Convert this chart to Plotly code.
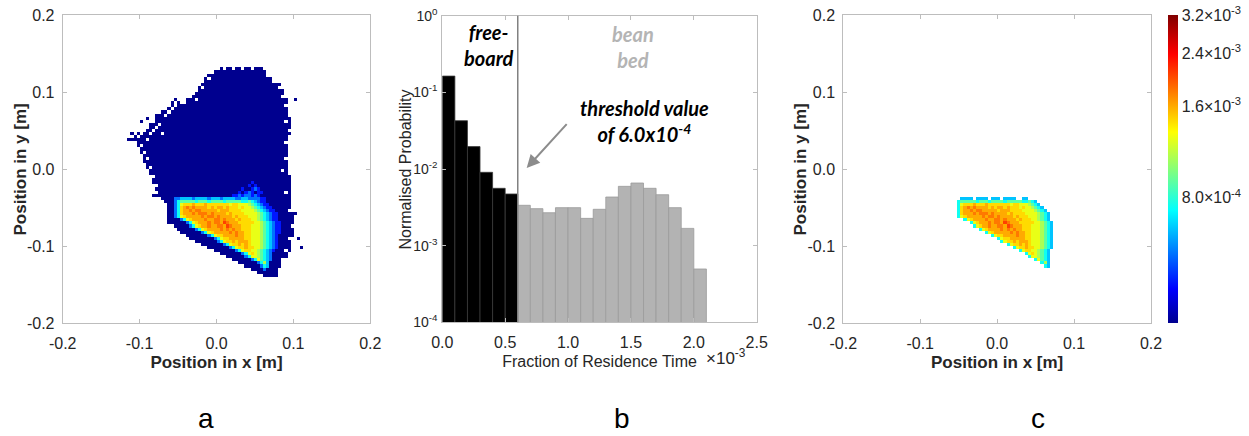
import numpy as np
import plotly.graph_objects as go

# ---------------- data ----------------
# 2-D residence maps: 100 x 100 bins of 0.004 m over [-0.2, 0.2] m.
bin_size_m = 0.004
n_bins = 100

# Footprint of the visited cells in panel a (row index counted from the top edge y = 0.2 m,
# left / right column index counted from x = -0.2 m)
footprint_rows = list(range(17, 85))
footprint_left = [51, 49, 47, 46, 46, 45, 44, 44, 43, 42, 40, 37, 35, 33, 31, 30, 30, 29, 28, 27,
                  26, 24, 23, 22, 23, 24, 25, 25, 26, 26, 26, 27, 27, 28, 28, 29, 29, 29, 30, 30,
                  31, 31, 32, 33, 34, 34, 34, 34, 34, 34, 34, 36, 37, 38, 40, 41, 43, 45, 47, 49,
                  51, 53, 55, 57, 59, 61, 63, 65]
footprint_right = [64, 65, 66, 67, 68, 70, 70, 71, 71, 71, 72, 72, 72, 72, 72, 72, 73, 73, 73, 73,
                   73, 73, 72, 72, 72, 72, 72, 72, 72, 72, 72, 72, 72, 72, 72, 73, 73, 73, 73, 73,
                   73, 73, 73, 73, 73, 73, 73, 74, 74, 74, 74, 74, 74, 74, 74, 73, 73, 73, 73, 73,
                   72, 72, 71, 70, 70, 69, 69, 69]
# empty cells inside the footprint (col, row) and lone visited cells outside it (col, row)
hole_cells = [(38, 28), (39, 28), (36, 29), (33, 30), (35, 30), (31, 31), (34, 31), (33, 32), (29, 34),
              (31, 35), (27, 36), (30, 36), (26, 37), (29, 37), (25, 38), (28, 38), (32, 38), (24, 39),
              (27, 40), (23, 41), (25, 42), (26, 44), (27, 46), (28, 49), (29, 52), (30, 55), (41, 26),
              (43, 27), (45, 23), (47, 20), (52, 17), (55, 17), (58, 17), (61, 17), (66, 19), (68, 21),
              (70, 23), (71, 26), (72, 29), (72, 34), (73, 37), (72, 41), (72, 46), (71, 50), (72, 57),
              (73, 63), (74, 68), (73, 72), (72, 76), (71, 79)]
lone_cells = [(75, 27), (76, 72), (77, 75), (29, 58), (30, 58), (27, 33), (25, 34), (22, 38), (21, 40),
              (36, 27), (35, 28), (75, 64)]

# Colour levels of the dense (bean bed) region: one character per bin
level_codes = "0123456789ab"
level_values = [2.8e-4, 4.2e-4, 5.2e-4, 6.3e-4, 7.5e-4, 9.0e-4, 1.08e-3, 1.25e-3, 1.43e-3, 1.6e-3,
                1.8e-3, 2.05e-3]
hot_rows = list(range(54, 83))
hot_start = [60, 59, 58, 57, 55, 36, 36, 36, 36, 36, 36, 36, 38, 40, 41, 43, 45, 47, 49, 50, 52, 54,
             56, 58, 59, 61, 63, 64, 65]
hot_levels = [
    "0100",
    "01010",
    "1001210",
    "10121011",
    "1121221210",
    "2" + "2333323333233323333223322" + "2211",
    "2" + "45555545554555545555544543" + "211",
    "24" + "78889888988888887887776" + "543" + "211",
    "24" + "89a9a9999898998988878776" + "543" + "211",
    "24" + "899a9aa999998999888877776" + "543" + "211",
    "24" + "8999a9aaa9a999989888877776" + "543" + "211",
    "24" + "7899999a9aa9a9999898887776" + "543" + "211",
    "24" + "789999a99aa9a99989888776" + "543" + "211",
    "24" + "78999a9aa9ba99988888776" + "543" + "211",
    "24" + "7899a99aa9ba9998887776" + "543" + "211",
    "24" + "789999a9a9a998887776" + "543" + "211",
    "24" + "7899999a9a99887776" + "543" + "211",
    "24" + "7889999a99887776" + "543" + "21",
    "24" + "78899999887776" + "543" + "21",
    "24" + "7889899987776" + "543" + "21",
    "24" + "78898987776" + "543" + "21",
    "24" + "788988776" + "543" + "21",
    "24" + "788776" + "543" + "21",
    "24" + "7876" + "543" + "2",
    "24" + "776" + "543" + "2",
    "24" + "7" + "543" + "2",
    "2463",
    "243",
    "2",
]
threshold_value = 6.0e-4
cbar_min, cbar_max = 3.08e-4, 3.2e-3
cbar_ticks = [8.0e-4, 1.6e-3, 2.4e-3, 3.2e-3]
cbar_ticktext = ["8.0\u00d710<sup>-4</sup>", "1.6\u00d710<sup>-3</sup>",
                 "2.4\u00d710<sup>-3</sup>", "3.2\u00d710<sup>-3</sup>"]

# Histogram (panel b): fraction of residence time (x 10^-3), bin width 0.1
hist_left = [0.0, 0.1, 0.2, 0.3, 0.4, 0.5, 0.6, 0.7, 0.8, 0.9, 1.0, 1.1, 1.2, 1.3, 1.4, 1.5, 1.6,
             1.7, 1.8, 1.9, 2.0]
hist_prob = [0.163, 0.0427, 0.0196, 0.00905, 0.0056, 0.00472, 0.00336, 0.00304, 0.00269, 0.00313,
             0.00313, 0.00227, 0.00298, 0.00431, 0.00594, 0.00656, 0.0056, 0.00462, 0.00313,
             0.00168, 0.000496]
n_freeboard = 6
threshold_x = 0.6

pos_ticks = [-0.2, -0.1, 0.0, 0.1, 0.2]
pos_ticktext = ["-0.2", "-0.1", "0.0", "0.1", "0.2"]
hist_xticks = [0.0, 0.5, 1.0, 1.5, 2.0, 2.5]
hist_xticktext = ["0.0", "0.5", "1.0", "1.5", "2.0", "2.5"]
hist_yticks = [1e-4, 1e-3, 1e-2, 1e-1, 1.0]
hist_yticktext = ["10<sup>-4</sup>", "10<sup>-3</sup>", "10<sup>-2</sup>", "10<sup>-1</sup>", "10<sup>0</sup>"]

# ---------------- build maps ----------------
grid = np.full((n_bins, n_bins), np.nan)
for r, lo, hi in zip(footprint_rows, footprint_left, footprint_right):
    grid[r, lo:hi + 1] = level_values[0]
for c, r in hole_cells:
    grid[r, c] = np.nan
for c, r in lone_cells:
    grid[r, c] = level_values[0]
for r, s, txt in zip(hot_rows, hot_start, hot_levels):
    for k, ch in enumerate(txt):
        grid[r, s + k] = level_values[level_codes.index(ch)]
grid_c = np.where(grid >= threshold_value, grid, np.nan)

centers = [round(-0.2 + bin_size_m * (i + 0.5), 4) for i in range(n_bins)]
with np.errstate(invalid="ignore", divide="ignore"):
    za = np.log10(grid[::-1])
    zc = np.log10(grid_c[::-1])

jet = [[0.0, "rgb(0,0,143)"], [0.11, "rgb(0,0,255)"], [0.365, "rgb(0,255,255)"],
       [0.62, "rgb(255,255,0)"], [0.873, "rgb(255,0,0)"], [1.0, "rgb(128,0,0)"]]
zmin, zmax = np.log10(cbar_min), np.log10(cbar_max)

W, H = 1249, 436
FONT = "Liberation Sans, Arial, sans-serif"
TXT = "#262626"
AX = "#bdbdbd"

fig = go.Figure()
fig.add_trace(go.Heatmap(x=centers, y=centers, z=za, zmin=zmin, zmax=zmax, colorscale=jet,
                         showscale=False, hoverinfo="skip", xaxis="x", yaxis="y"))
fig.add_trace(go.Heatmap(x=centers, y=centers, z=zc, zmin=zmin, zmax=zmax, colorscale=jet,
                         hoverinfo="skip", xaxis="x3", yaxis="y3",
                         colorbar=dict(x=1167.7 / W, xanchor="left", y=1 - 323.3 / H, yanchor="bottom",
                                       len=307.6 / H, lenmode="fraction", thickness=10,
                                       thicknessmode="pixels", xpad=0, ypad=0, outlinewidth=0,
                                       tickmode="array", tickvals=list(np.log10(cbar_ticks)),
                                       ticktext=cbar_ticktext, ticks="",
                                       tickfont=dict(family=FONT, size=16, color=TXT))))

centers_b = [round(v + 0.05, 2) for v in hist_left]
fig.add_trace(go.Bar(x=centers_b[:n_freeboard], y=hist_prob[:n_freeboard], width=0.1,
                     marker=dict(color="#000000", line=dict(color="#3a3a3a", width=0.8)),
                     xaxis="x2", yaxis="y2", hoverinfo="skip"))
fig.add_trace(go.Bar(x=centers_b[n_freeboard:], y=hist_prob[n_freeboard:], width=0.1,
                     marker=dict(color="#b3b3b3", line=dict(color="#9a9a9a", width=0.8)),
                     xaxis="x2", yaxis="y2", hoverinfo="skip"))


def pos_axis(domain, anchor, title, is_x):
    d = dict(domain=domain, anchor=anchor, range=[-0.2, 0.2], tickmode="array", tickvals=pos_ticks,
             ticktext=pos_ticktext, ticks="inside", ticklen=4, tickcolor=AX, showline=True,
             linecolor=AX, linewidth=1, mirror="ticks", showgrid=False, zeroline=False,
             automargin=False, ticklabelstandoff=5 if is_x else 4,
             tickfont=dict(family=FONT, size=16, color=TXT))
    if is_x:
        d["title"] = dict(text="<b>" + title + "</b>", font=dict(family=FONT, size=17, color=TXT),
                          standoff=5)
    return d


ya_dom = [1 - 323.3 / H, 1 - 15 / H]
fig.update_layout(
    width=W, height=H, margin=dict(l=0, r=0, t=0, b=0, autoexpand=False),
    paper_bgcolor="white", plot_bgcolor="white", showlegend=False, barmode="overlay",
    xaxis=pos_axis([62.7 / W, 370.3 / W], "y", "Position in x [m]", True),
    yaxis=pos_axis(ya_dom, "x", "Position in y [m]", False),
    xaxis3=pos_axis([843.3 / W, 1151 / W], "y3", "Position in x [m]", True),
    yaxis3=pos_axis(ya_dom, "x3", "Position in y [m]", False),
    xaxis2=dict(domain=[442.3 / W, 756.7 / W], anchor="y2", range=[0, 2.5], tickmode="array",
                tickvals=hist_xticks, ticktext=hist_xticktext, ticks="inside", ticklen=4,
                tickcolor=AX, showline=True, linecolor=AX, linewidth=1, mirror="ticks",
                showgrid=False, zeroline=False, ticklabelstandoff=5, automargin=False,
                tickfont=dict(family=FONT, size=16, color=TXT),
                title=dict(text="Fraction of Residence Time", standoff=6,
                           font=dict(family=FONT, size=16, color=TXT))),
    yaxis2=dict(domain=[1 - 322.3 / H, 1 - 15.7 / H], anchor="x2", type="log", range=[-4, 0],
                tickmode="array", tickvals=hist_yticks, ticktext=hist_yticktext, ticks="inside",
                ticklen=4, tickcolor=AX, showline=True, linecolor=AX, linewidth=1, mirror="ticks",
                showgrid=False, zeroline=False, ticklabelstandoff=1, automargin=False,
                tickfont=dict(family=FONT, size=14, color=TXT)),
)

# y-axis titles
for text, px, bold in (("Position in y [m]", 20, True), ("Normalised Probability", 405, False),
                       ("Position in y [m]", 800, True)):
    fig.add_annotation(x=px / W, y=1 - 169.5 / H, xref="paper", yref="paper", textangle=-90,
                       text=("<b>%s</b>" % text) if bold else text, showarrow=False,
                       xanchor="center", yanchor="middle",
                       font=dict(family=FONT, size=17 if bold else 16, color=TXT))

# threshold line and arrow (panel b)
fig.add_shape(type="line", xref="x2", yref="y2 domain", x0=threshold_x, x1=threshold_x, y0=0, y1=1,
              line=dict(color="#808080", width=1.5))
fig.add_shape(type="line", xref="x2", yref="y2", x0=1.0, x1=1.08, y0=-1.396, y1=-1.385,
              line=dict(color="#8c8c8c", width=2))
fig.add_annotation(x=0.671, y=-1.987, xref="x2", yref="y2", ax=1.0, ay=-1.396, axref="x2",
                   ayref="y2", text="", showarrow=True, arrowhead=2, arrowsize=1.3, arrowwidth=2,
                   arrowcolor="#8c8c8c")

ann_font = dict(family="Lato, DejaVu Sans, sans-serif", size=20, weight="bold", style="italic")
fig.add_annotation(x=0.365, y=-0.382, xref="x2", yref="y2", text="free-<br>board", showarrow=False,
                   font=dict(ann_font, color="#000000"))
fig.add_annotation(x=1.516, y=-0.408, xref="x2", yref="y2", text="bean<br>bed", showarrow=False,
                   font=dict(ann_font, color="#b4b4b4"))
fig.add_annotation(x=1.079, y=-1.38, xref="x2", yref="y2", xanchor="left",
                   text="threshold value<br>of 6.0x10<sup>-4</sup>", showarrow=False,
                   font=dict(ann_font, color="#000000"))
fig.add_annotation(x=726 / W, y=1 - 357 / H, xref="paper", yref="paper", text="\u00d710<sup>-3</sup>",
                   showarrow=False, xanchor="center", yanchor="middle",
                   font=dict(family=FONT, size=17, color=TXT))

for lab, px in (("a", 206), ("b", 622), ("c", 1038)):
    fig.add_annotation(x=px / W, y=1 - 418 / H, xref="paper", yref="paper", text=lab,
                       showarrow=False, xanchor="center", yanchor="middle",
                       font=dict(family=FONT, size=28, color="#000000"))

fig.write_html("out.html")
